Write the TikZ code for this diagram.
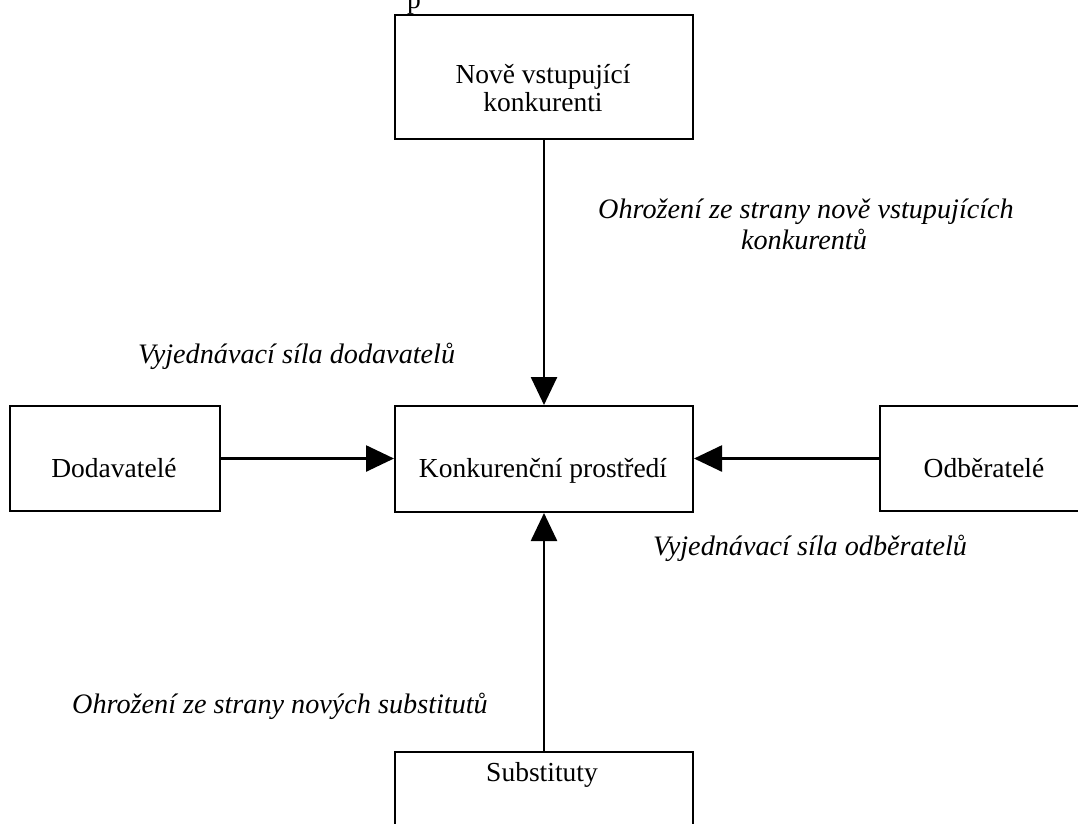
\documentclass[tikz,border=0pt]{standalone}
\usepackage{fontspec}
\setmainfont{Liberation Serif}
\usetikzlibrary{arrows.meta}
\begin{document}
\begin{tikzpicture}[x=1pt,y=-1pt,
  frame/.style={draw=black,line width=2pt,rectangle,inner sep=0pt,anchor=north west},
  txt/.style={inner sep=0pt,font=\fontsize{27.5}{28}\selectfont,anchor=base},
  lbl/.style={inner sep=0pt,font=\fontsize{28.2}{31}\selectfont\itshape,anchor=base},
  conn/.style={line width=2.6pt,-{Triangle[width=26pt,length=28pt]}}]
\useasboundingbox (0,0) rectangle (1078,823);
% cut-off text at the top
\node[txt,anchor=base west] (ptop) at (407,8) {p};
% boxes
\node[frame,minimum width=298pt,minimum height=124pt] (top) at (394,14) {};
\node[frame,minimum width=298pt,minimum height=106pt] (mid) at (394,405) {};
\node[frame,minimum width=210pt,minimum height=105pt] (left) at (9,405) {};
\node[frame,minimum width=210pt,minimum height=105pt] (right) at (879,405) {};
\node[frame,minimum width=298pt,minimum height=124pt] (bot) at (394,751) {};
% box texts
\node[txt] (ttop1) at (543,83) {Nově vstupující};
\node[txt] (ttop2) at (543,111) {konkurenti};
\node[txt] (tmid) at (543,477) {Konkurenční prostředí};
\node[txt] (tleft) at (114,477) {Dodavatelé};
\node[txt] (tright) at (984,477) {Odběratelé};
\node[txt] (tbot) at (542,781) {Substituty};
% connectors
\draw[conn] (top.south) -- (mid.north);
\draw[conn] (left.east) -- (left.east -| mid.west);
\draw[conn] (right.west) -- (right.west -| mid.east);
\draw[conn] (bot.north) -- (mid.south);
% labels
\node[lbl,anchor=base west] (l1a) at (598,218) {Ohrožení ze strany nově vstupujících};
\node[lbl] (l1b) at (804,249) {konkurentů};
\node[lbl,anchor=base west] (l2) at (138,363) {Vyjednávací síla dodavatelů};
\node[lbl,anchor=base west] (l3) at (653,555) {Vyjednávací síla odběratelů};
\node[lbl,anchor=base west] (l4) at (72,713) {Ohrožení ze strany nových substitutů};
\end{tikzpicture}
\end{document}
